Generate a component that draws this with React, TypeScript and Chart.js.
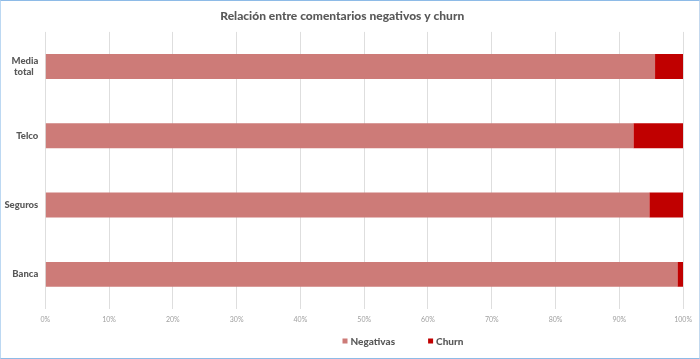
import React, { useEffect, useRef } from "react";
import { Chart, registerables } from "chart.js";

Chart.register(...registerables);

const categories: (string | string[])[] = [["Media", "total\u00A0\u00A0"], "Telco", "Seguros", "Banca"];
const negativas = [95.6, 92.2, 94.7, 99.1];
const churn = [4.4, 7.8, 5.3, 0.9];
const xTicks = [0, 10, 20, 30, 40, 50, 60, 70, 80, 90, 100];
const titleText = "Relación entre comentarios negativos y churn";
const seriesNames = ["Negativas", "Churn"];
const seriesColors = ["#CD7B78", "#C00000"];

const legendPlugin = {
  id: "customLegend",
  afterDraw(chart: any) {
    const ctx = chart.ctx;
    ctx.save();
    ctx.font = "900 10px Lato";
    ctx.textBaseline = "middle";
    ctx.textAlign = "left";
    const y = 340.5;
    let x = 341.5;
    seriesNames.forEach((name, i) => {
      ctx.fillStyle = seriesColors[i];
      ctx.fillRect(x, y - 3, 5, 5);
      x += 8;
      ctx.fillStyle = "#595959";
      ctx.fillText(name, x, y);
      x += ctx.measureText(name).width + 33;
    });
    ctx.restore();
  },
};

export default function App() {
  const ref = useRef<HTMLCanvasElement | null>(null);
  useEffect(() => {
    document.body.style.margin = "0";
    const chart = new Chart(ref.current!, {
      type: "bar",
      data: {
        labels: categories as any,
        datasets: [
          {
            label: seriesNames[0],
            data: negativas,
            backgroundColor: seriesColors[0],
            barPercentage: 0.36,
            categoryPercentage: 1,
          },
          {
            label: seriesNames[1],
            data: churn,
            backgroundColor: seriesColors[1],
            barPercentage: 0.36,
            categoryPercentage: 1,
          },
        ],
      },
      plugins: [legendPlugin],
      options: {
        indexAxis: "y",
        animation: false,
        responsive: false,
        maintainAspectRatio: false,
        layout: { padding: { left: 0, right: 15.5, top: 0, bottom: 0 } },
        plugins: {
          legend: { display: false },
          tooltip: { enabled: false },
          title: {
            display: true,
            text: titleText,
            color: "#595959",
            font: { family: "Lato", size: 12, weight: 900 },
            padding: { top: 8, bottom: 8.5 },
          },
        },
        scales: {
          x: {
            stacked: true,
            min: 0,
            max: 100,
            afterBuildTicks: (scale: any) => {
              scale.ticks = xTicks.map((v) => ({ value: v }));
            },
            afterFit: (scale: any) => {
              scale.height = 49;
            },
            ticks: {
              callback: (v: any) => v + "%",
              color: "#a0a0a0",
              font: { family: "Lato", size: 7 },
              padding: 7,
              maxRotation: 0,
            },
            grid: { color: "#dedede", drawTicks: false },
            border: { display: false },
          },
          y: {
            stacked: true,
            afterFit: (scale: any) => {
              scale.width = 44.3;
            },
            ticks: {
              color: "#595959",
              font: { family: "Lato", size: 9.5, weight: 900 },
              padding: 7,
            },
            grid: { display: false, drawTicks: false },
            border: { display: false },
          },
        },
      },
    } as any);
    return () => chart.destroy();
  }, []);
  return (
    <div
      style={{
        width: 700,
        height: 359,
        boxSizing: "border-box",
        borderTop: "1px solid #8EBBE7",
        borderBottom: "1px solid #8EBBE7",
        borderLeft: "1px solid #BCD8F2",
        borderRight: "1px solid #C3D8EE",
        background: "#fff",
      }}
    >
      <canvas ref={ref} width={698} height={357} style={{ display: "block" }} />
    </div>
  );
}
